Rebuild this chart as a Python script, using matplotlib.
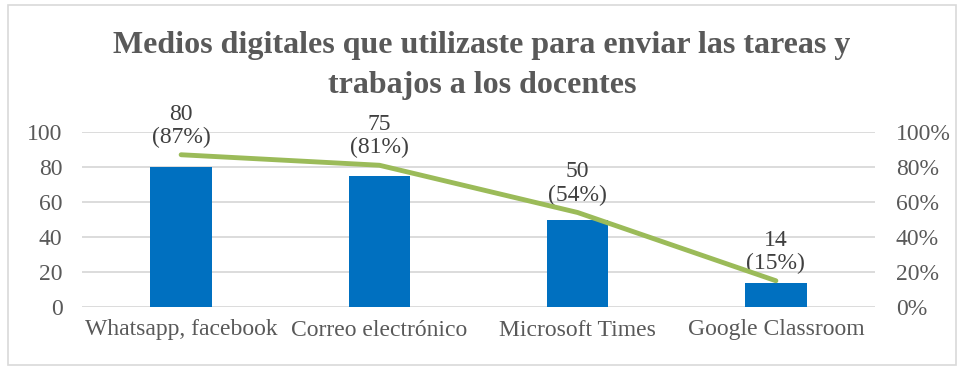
import matplotlib.pyplot as plt
from matplotlib.patches import Rectangle

# datos del grafico
categorias = ["Whatsapp, facebook", "Correo electrónico", "Microsoft Times", "Google Classroom"]
cantidades = [80, 75, 50, 14]
porcentajes = [87, 81, 54, 15]
ticks_izq = [0, 20, 40, 60, 80, 100]
ticks_der = [0, 20, 40, 60, 80, 100]

plt.rcParams['font.family'] = ['Liberation Serif', 'DejaVu Serif']
gris = '#595959'

fig = plt.figure(figsize=(9.64, 3.67), dpi=100)
ax = fig.add_axes([82 / 964, 1 - 307 / 367, (875 - 82) / 964, (307 - 132) / 367])

x = range(len(categorias))
ax.bar(x, cantidades, width=0.31, color='#0070C0', zorder=3)
ax.set_ylim(0, 100)
ax.set_xlim(-0.5, len(categorias) - 0.5)
ax.set_yticks(ticks_izq)
ax.set_xticks(list(x))
ax.set_xticklabels(categorias)
ax.grid(axis='y', color='#D9D9D9', linewidth=1.3, zorder=0)
for s in ax.spines.values():
    s.set_visible(False)
ax.tick_params(length=0, labelsize=17, labelcolor=gris)
ax.tick_params(axis='x', pad=9)
ax.tick_params(axis='y', pad=14)

ax2 = ax.twinx()
ax2.plot(x, porcentajes, color='#9BBB59', linewidth=3.5, solid_capstyle='round', zorder=4)
ax2.set_ylim(0, 100)
ax2.set_yticks(ticks_der)
ax2.set_yticklabels([f'{t}%' for t in ticks_der])
for s in ax2.spines.values():
    s.set_visible(False)
ax2.tick_params(length=0, labelsize=17, labelcolor=gris, pad=15)

# etiquetas sobre la linea
for i, (c, p) in enumerate(zip(cantidades, porcentajes)):
    ax2.annotate(f'{c}\n({p}%)', (i, p), xytext=(0, 5), textcoords='offset points',
                 ha='center', va='bottom', fontsize=17, color='#404040', linespacing=1.12)

fig.text(0.5, 1 - 45 / 367, 'Medios digitales que utilizaste para enviar las tareas y',
         ha='center', va='center', fontsize=23, fontweight='bold', color=gris)
fig.text(0.5, 1 - 85 / 367, 'trabajos a los docentes',
         ha='center', va='center', fontsize=23, fontweight='bold', color=gris)

# borde del grafico
fig.patches.append(Rectangle((8 / 964, 2 / 367), 948 / 964, 360 / 367, transform=fig.transFigure,
                             fill=False, edgecolor='#D9D9D9', linewidth=1.2))

fig.savefig('out.png', dpi=100)
